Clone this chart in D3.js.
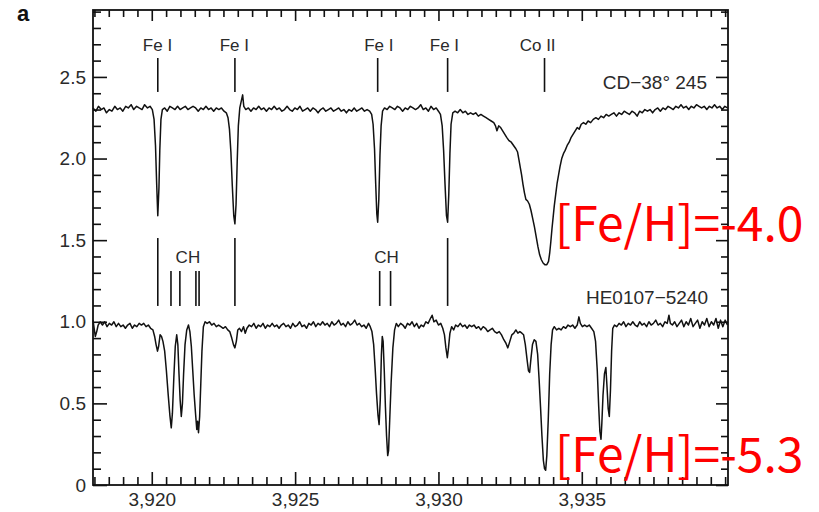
<!DOCTYPE html>
<html><head><meta charset="utf-8">
<script src="https://cdn.jsdelivr.net/npm/d3@7"></script>
<style>body{margin:0;background:#fff}svg{display:block}</style>
</head><body>
<svg id="chart" width="819" height="512"></svg>
<script>
// ---- data ----
const topSpectrum = [[3917.95,2.31],[3918.05,2.29],[3918.14,2.32],[3918.24,2.30],[3918.33,2.31],[3918.42,2.28],[3918.52,2.30],[3918.61,2.29],[3918.71,2.32],[3918.80,2.30],[3918.90,2.31],[3918.99,2.29],[3919.09,2.32],[3919.18,2.31],[3919.28,2.33],[3919.37,2.30],[3919.47,2.32],[3919.56,2.31],[3919.66,2.30],[3919.75,2.33],[3919.85,2.31],[3919.94,2.32],[3920.02,2.30],[3920.08,2.24],[3920.13,2.08],[3920.17,1.85],[3920.21,1.65],[3920.25,1.82],[3920.28,2.05],[3920.32,2.24],[3920.37,2.30],[3920.45,2.31],[3920.54,2.29],[3920.63,2.32],[3920.72,2.31],[3920.81,2.30],[3920.90,2.32],[3920.99,2.30],[3921.08,2.31],[3921.17,2.32],[3921.26,2.30],[3921.35,2.31],[3921.44,2.32],[3921.53,2.31],[3921.62,2.29],[3921.71,2.31],[3921.80,2.30],[3921.89,2.32],[3921.98,2.30],[3922.07,2.31],[3922.16,2.29],[3922.25,2.31],[3922.34,2.30],[3922.43,2.31],[3922.52,2.29],[3922.60,2.28],[3922.66,2.25],[3922.71,2.18],[3922.76,2.04],[3922.81,1.83],[3922.86,1.65],[3922.90,1.60],[3922.94,1.72],[3922.98,1.98],[3923.02,2.20],[3923.07,2.31],[3923.12,2.35],[3923.17,2.39],[3923.21,2.32],[3923.28,2.30],[3923.37,2.31],[3923.46,2.29],[3923.55,2.31],[3923.64,2.30],[3923.73,2.32],[3923.82,2.30],[3923.91,2.31],[3924.00,2.29],[3924.09,2.31],[3924.18,2.30],[3924.27,2.32],[3924.36,2.30],[3924.45,2.31],[3924.54,2.29],[3924.63,2.30],[3924.72,2.32],[3924.81,2.30],[3924.90,2.29],[3924.99,2.31],[3925.08,2.30],[3925.17,2.32],[3925.26,2.29],[3925.35,2.30],[3925.44,2.31],[3925.53,2.29],[3925.62,2.31],[3925.71,2.30],[3925.80,2.28],[3925.89,2.30],[3925.98,2.31],[3926.07,2.29],[3926.16,2.30],[3926.25,2.31],[3926.34,2.29],[3926.43,2.30],[3926.52,2.31],[3926.61,2.29],[3926.70,2.30],[3926.79,2.28],[3926.88,2.30],[3926.97,2.29],[3927.06,2.31],[3927.15,2.29],[3927.24,2.30],[3927.33,2.31],[3927.42,2.29],[3927.51,2.30],[3927.60,2.29],[3927.67,2.27],[3927.72,2.21],[3927.77,2.06],[3927.81,1.85],[3927.85,1.66],[3927.88,1.61],[3927.92,1.75],[3927.96,2.02],[3928.00,2.20],[3928.05,2.29],[3928.12,2.31],[3928.21,2.30],[3928.30,2.32],[3928.39,2.31],[3928.48,2.30],[3928.57,2.32],[3928.66,2.31],[3928.75,2.29],[3928.84,2.31],[3928.93,2.30],[3929.02,2.32],[3929.11,2.31],[3929.20,2.30],[3929.29,2.31],[3929.38,2.33],[3929.47,2.30],[3929.56,2.31],[3929.65,2.29],[3929.74,2.32],[3929.83,2.30],[3929.92,2.31],[3930.00,2.29],[3930.07,2.27],[3930.13,2.20],[3930.18,2.05],[3930.23,1.84],[3930.28,1.65],[3930.32,1.61],[3930.36,1.78],[3930.40,2.03],[3930.44,2.21],[3930.50,2.28],[3930.58,2.29],[3930.67,2.28],[3930.76,2.30],[3930.85,2.28],[3930.94,2.29],[3931.03,2.27],[3931.12,2.28],[3931.21,2.27],[3931.30,2.28],[3931.39,2.26],[3931.48,2.27],[3931.57,2.26],[3931.66,2.25],[3931.75,2.24],[3931.84,2.23],[3931.93,2.22],[3931.99,2.20],[3932.04,2.17],[3932.10,2.20],[3932.17,2.19],[3932.24,2.17],[3932.31,2.15],[3932.38,2.13],[3932.46,2.11],[3932.54,2.10],[3932.62,2.08],[3932.70,2.06],[3932.76,2.04],[3932.81,1.99],[3932.86,1.94],[3932.90,1.90],[3932.95,1.84],[3933.00,1.79],[3933.05,1.75],[3933.11,1.74],[3933.17,1.72],[3933.23,1.68],[3933.29,1.63],[3933.35,1.58],[3933.41,1.52],[3933.47,1.46],[3933.53,1.41],[3933.59,1.38],[3933.65,1.36],[3933.71,1.35],[3933.78,1.35],[3933.84,1.37],[3933.88,1.42],[3933.92,1.49],[3933.96,1.57],[3934.00,1.64],[3934.04,1.71],[3934.09,1.78],[3934.14,1.85],[3934.19,1.90],[3934.24,1.95],[3934.30,2.00],[3934.36,2.03],[3934.42,2.05],[3934.49,2.08],[3934.56,2.10],[3934.63,2.13],[3934.70,2.15],[3934.77,2.17],[3934.84,2.19],[3934.91,2.18],[3934.98,2.21],[3935.06,2.22],[3935.14,2.21],[3935.22,2.23],[3935.31,2.22],[3935.40,2.24],[3935.49,2.25],[3935.58,2.24],[3935.67,2.26],[3935.76,2.25],[3935.85,2.27],[3935.94,2.26],[3936.03,2.27],[3936.12,2.28],[3936.21,2.26],[3936.30,2.28],[3936.39,2.27],[3936.48,2.29],[3936.57,2.28],[3936.66,2.27],[3936.75,2.29],[3936.84,2.28],[3936.93,2.26],[3937.02,2.29],[3937.11,2.28],[3937.20,2.30],[3937.29,2.29],[3937.38,2.30],[3937.47,2.28],[3937.56,2.30],[3937.65,2.31],[3937.74,2.29],[3937.83,2.31],[3937.92,2.30],[3938.01,2.32],[3938.10,2.31],[3938.19,2.30],[3938.28,2.32],[3938.37,2.31],[3938.46,2.33],[3938.55,2.31],[3938.64,2.32],[3938.73,2.30],[3938.82,2.32],[3938.91,2.31],[3939.00,2.33],[3939.09,2.32],[3939.18,2.31],[3939.27,2.32],[3939.36,2.30],[3939.45,2.32],[3939.54,2.31],[3939.63,2.33],[3939.72,2.31],[3939.81,2.32],[3939.90,2.30],[3939.99,2.32],[3940.08,2.31]];

const bottomSpectrum = [[3917.95,1.01],[3917.99,0.96],[3918.03,0.91],[3918.08,0.94],[3918.13,0.98],[3918.20,1.00],[3918.28,0.98],[3918.36,1.00],[3918.44,0.97],[3918.52,0.99],[3918.60,0.98],[3918.68,1.00],[3918.76,0.97],[3918.84,0.99],[3918.92,0.97],[3919.00,0.98],[3919.08,0.96],[3919.16,0.98],[3919.24,0.99],[3919.32,0.96],[3919.40,0.98],[3919.48,0.97],[3919.56,0.99],[3919.64,0.98],[3919.72,0.99],[3919.80,0.97],[3919.88,0.98],[3919.96,0.96],[3920.04,0.95],[3920.10,0.91],[3920.15,0.86],[3920.20,0.82],[3920.24,0.85],[3920.29,0.92],[3920.34,0.91],[3920.39,0.88],[3920.45,0.82],[3920.51,0.70],[3920.57,0.56],[3920.63,0.43],[3920.68,0.35],[3920.72,0.44],[3920.77,0.66],[3920.82,0.85],[3920.87,0.92],[3920.91,0.86],[3920.95,0.68],[3920.99,0.52],[3921.03,0.42],[3921.07,0.50],[3921.11,0.68],[3921.16,0.86],[3921.22,0.95],[3921.28,0.98],[3921.33,0.94],[3921.38,0.85],[3921.43,0.70],[3921.48,0.55],[3921.53,0.43],[3921.57,0.34],[3921.60,0.39],[3921.63,0.32],[3921.67,0.42],[3921.71,0.62],[3921.75,0.82],[3921.80,0.97],[3921.86,1.00],[3921.93,0.99],[3922.01,1.00],[3922.09,0.98],[3922.17,0.99],[3922.25,0.97],[3922.33,0.98],[3922.41,0.97],[3922.49,0.96],[3922.57,0.97],[3922.65,0.95],[3922.72,0.94],[3922.79,0.90],[3922.85,0.86],[3922.90,0.84],[3922.95,0.88],[3923.00,0.95],[3923.06,0.96],[3923.13,0.94],[3923.20,0.97],[3923.26,0.93],[3923.32,0.96],[3923.40,0.98],[3923.48,0.97],[3923.56,0.99],[3923.64,0.96],[3923.72,0.98],[3923.80,0.97],[3923.88,0.99],[3923.96,0.96],[3924.04,0.98],[3924.12,0.97],[3924.20,0.99],[3924.28,0.97],[3924.36,0.98],[3924.44,0.96],[3924.52,0.98],[3924.60,0.99],[3924.68,0.97],[3924.76,0.98],[3924.84,0.96],[3924.92,0.99],[3925.00,0.97],[3925.08,0.98],[3925.16,1.00],[3925.24,0.97],[3925.32,0.98],[3925.40,0.96],[3925.48,0.99],[3925.56,0.98],[3925.64,1.00],[3925.72,0.97],[3925.80,0.99],[3925.88,0.98],[3925.96,1.00],[3926.04,0.98],[3926.12,0.99],[3926.20,0.97],[3926.28,1.00],[3926.36,0.98],[3926.44,0.99],[3926.52,1.01],[3926.60,0.98],[3926.68,0.99],[3926.76,0.97],[3926.84,1.00],[3926.92,0.98],[3927.00,0.99],[3927.08,1.01],[3927.16,0.98],[3927.24,0.99],[3927.32,0.97],[3927.40,0.98],[3927.48,0.96],[3927.56,0.99],[3927.62,0.97],[3927.68,0.94],[3927.74,0.86],[3927.79,0.72],[3927.84,0.56],[3927.89,0.43],[3927.93,0.37],[3927.97,0.52],[3928.01,0.80],[3928.04,0.91],[3928.07,0.88],[3928.11,0.70],[3928.15,0.48],[3928.19,0.30],[3928.23,0.18],[3928.26,0.21],[3928.30,0.40],[3928.35,0.63],[3928.41,0.84],[3928.47,0.95],[3928.53,0.99],[3928.60,0.97],[3928.68,0.99],[3928.76,0.98],[3928.84,0.96],[3928.92,0.99],[3929.00,0.98],[3929.08,1.00],[3929.16,0.97],[3929.24,0.99],[3929.32,0.96],[3929.40,0.98],[3929.48,0.97],[3929.56,1.00],[3929.64,0.99],[3929.72,1.02],[3929.78,1.04],[3929.84,1.00],[3929.92,1.01],[3930.00,0.98],[3930.08,0.99],[3930.15,0.96],[3930.21,0.92],[3930.26,0.84],[3930.31,0.78],[3930.35,0.84],[3930.40,0.93],[3930.46,0.97],[3930.53,0.95],[3930.60,0.98],[3930.68,0.97],[3930.76,0.99],[3930.84,0.97],[3930.92,0.98],[3931.00,0.96],[3931.08,0.98],[3931.16,0.97],[3931.24,0.98],[3931.32,0.96],[3931.40,0.97],[3931.48,0.95],[3931.56,0.97],[3931.64,0.96],[3931.72,0.94],[3931.80,0.95],[3931.88,0.96],[3931.96,0.94],[3932.04,0.93],[3932.12,0.94],[3932.20,0.92],[3932.28,0.89],[3932.35,0.87],[3932.42,0.84],[3932.49,0.88],[3932.56,0.92],[3932.63,0.93],[3932.70,0.95],[3932.77,0.93],[3932.84,0.94],[3932.91,0.93],[3932.97,0.92],[3933.03,0.86],[3933.09,0.77],[3933.14,0.70],[3933.18,0.69],[3933.23,0.78],[3933.28,0.86],[3933.34,0.89],[3933.40,0.88],[3933.46,0.80],[3933.51,0.65],[3933.56,0.48],[3933.61,0.30],[3933.66,0.15],[3933.70,0.10],[3933.74,0.09],[3933.78,0.18],[3933.83,0.40],[3933.88,0.68],[3933.93,0.86],[3933.98,0.95],[3934.04,0.97],[3934.12,0.95],[3934.20,0.96],[3934.28,0.95],[3934.36,0.97],[3934.44,0.96],[3934.52,0.98],[3934.60,0.97],[3934.68,0.98],[3934.76,0.96],[3934.84,0.98],[3934.90,1.03],[3934.95,0.99],[3935.02,0.97],[3935.10,0.98],[3935.18,0.97],[3935.26,0.98],[3935.34,0.96],[3935.42,0.94],[3935.48,0.88],[3935.54,0.70],[3935.59,0.48],[3935.63,0.33],[3935.67,0.28],[3935.70,0.38],[3935.74,0.55],[3935.79,0.68],[3935.84,0.72],[3935.88,0.60],[3935.92,0.47],[3935.96,0.42],[3936.00,0.58],[3936.04,0.82],[3936.08,0.96],[3936.14,0.98],[3936.22,0.97],[3936.30,0.99],[3936.38,0.98],[3936.46,1.00],[3936.54,0.97],[3936.62,0.99],[3936.70,0.98],[3936.78,1.00],[3936.86,0.98],[3936.94,0.97],[3937.02,1.00],[3937.10,0.98],[3937.18,0.99],[3937.26,0.97],[3937.34,1.00],[3937.42,0.98],[3937.50,0.99],[3937.58,1.01],[3937.66,0.98],[3937.74,0.99],[3937.82,0.97],[3937.90,1.00],[3937.98,0.99],[3938.04,1.04],[3938.09,0.99],[3938.16,0.98],[3938.24,1.00],[3938.32,0.97],[3938.40,0.99],[3938.48,1.01],[3938.56,0.97],[3938.64,1.00],[3938.72,0.98],[3938.80,1.02],[3938.88,0.97],[3938.96,0.99],[3939.04,1.01],[3939.12,0.96],[3939.20,1.00],[3939.28,0.98],[3939.36,1.02],[3939.44,0.97],[3939.52,1.00],[3939.60,0.98],[3939.68,1.02],[3939.76,0.96],[3939.84,1.01],[3939.92,0.97],[3940.00,1.01],[3940.08,0.98]];

const topLineWl     = [3920.21, 3922.90, 3927.88, 3930.32, 3933.70];
const topLineLabels = ["Fe I", "Fe I", "Fe I", "Fe I", "Co II"];
const topLabelWl    = [3920.20, 3922.88, 3927.92, 3930.21, 3933.46];
const bottomFeWl    = [3920.21, 3922.90, 3930.32];
const chLineWl      = [3920.67, 3920.98, 3921.54, 3921.65, 3927.95, 3928.33];
const chLabelWl     = [3921.26, 3928.19];
const starNames     = ["CD\u221238\u00b0 245", "HE0107\u22125240"];
const metallicity   = ["[Fe/H]=-4.0", "[Fe/H]=-5.3"];
const xMajorTicks   = [3920, 3925, 3930, 3935];
const yMajorTicks   = [0, 0.5, 1.0, 1.5, 2.0, 2.5];

// ---- layout ----
const m = {left: 93, right: 728, top: 10, bottom: 485};
const svg = d3.select("#chart");
const x = d3.scaleLinear().domain([3917.95, 3940.1]).range([m.left, m.right]);
const y = d3.scaleLinear().domain([0, 2.91]).range([m.bottom, m.top]);

const ink = "#111";
const txt = "#2a2a2a";
const font = "'Liberation Sans', Arial, sans-serif";

const xMinor = d3.range(3918, 3940.01, 0.5).filter(v => !xMajorTicks.includes(v));
const yMinor = d3.range(0.1, 2.91, 0.1).map(v => +v.toFixed(1)).filter(v => !yMajorTicks.includes(v));

function styleAxis(g) {
  g.select(".domain").remove();
  g.selectAll(".tick line").attr("stroke", ink).attr("stroke-width", 1.6);
  g.selectAll(".tick text").attr("fill", txt).style("font-family", font).style("font-size", "19px");
}

// bottom axis
svg.append("g").attr("transform", `translate(0,${m.bottom})`)
  .call(d3.axisBottom(x).tickValues(xMinor).tickSize(-8).tickFormat(""))
  .call(styleAxis);
svg.append("g").attr("transform", `translate(0,${m.bottom})`)
  .call(d3.axisBottom(x).tickValues(xMajorTicks).tickSize(-13).tickPadding(8).tickFormat(d3.format(",")))
  .call(styleAxis);
// top axis (ticks only)
svg.append("g").attr("transform", `translate(0,${m.top})`)
  .call(d3.axisTop(x).tickValues(xMinor).tickSize(-7).tickFormat(""))
  .call(styleAxis);
svg.append("g").attr("transform", `translate(0,${m.top})`)
  .call(d3.axisTop(x).tickValues(xMajorTicks).tickSize(-11).tickFormat(""))
  .call(styleAxis);
// left axis
svg.append("g").attr("transform", `translate(${m.left},0)`)
  .call(d3.axisLeft(y).tickValues(yMinor).tickSize(-8).tickFormat(""))
  .call(styleAxis);
svg.append("g").attr("transform", `translate(${m.left},0)`)
  .call(d3.axisLeft(y).tickValues(yMajorTicks).tickSize(-14).tickPadding(7)
        .tickFormat(d => d === 0 ? "0" : d3.format(".1f")(d)))
  .call(styleAxis);
// right axis
svg.append("g").attr("transform", `translate(${m.right},0)`)
  .call(d3.axisRight(y).tickValues(yMinor).tickSize(-7).tickFormat(""))
  .call(styleAxis);
svg.append("g").attr("transform", `translate(${m.right},0)`)
  .call(d3.axisRight(y).tickValues(yMajorTicks).tickSize(-12).tickFormat(""))
  .call(styleAxis);

// frame
svg.append("rect").attr("x", m.left).attr("y", m.top)
  .attr("width", m.right - m.left).attr("height", m.bottom - m.top)
  .attr("fill", "none").attr("stroke", ink).attr("stroke-width", 1.8);

// spectra
const line = d3.line().x(d => x(d[0])).y(d => y(d[1]));
[topSpectrum, bottomSpectrum].forEach(s => {
  svg.append("path").datum(s).attr("d", line)
    .attr("fill", "none").attr("stroke", ink).attr("stroke-width", 1.5)
    .attr("stroke-linejoin", "round");
});

// line markers (top)
svg.append("g").selectAll("line").data(topLineWl).join("line")
  .attr("x1", d => x(d)).attr("x2", d => x(d))
  .attr("y1", y(2.616)).attr("y2", y(2.408))
  .attr("stroke", ink).attr("stroke-width", 1.6);
svg.append("g").selectAll("text").data(topLineLabels).join("text")
  .attr("x", (d, i) => x(topLabelWl[i])).attr("y", 51)
  .attr("text-anchor", "middle").attr("fill", txt)
  .style("font-family", font).style("font-size", "17px").text(d => d);

// line markers (bottom)
svg.append("g").selectAll("line").data(bottomFeWl).join("line")
  .attr("x1", d => x(d)).attr("x2", d => x(d))
  .attr("y1", y(1.513)).attr("y2", y(1.097))
  .attr("stroke", ink).attr("stroke-width", 1.6);
svg.append("g").selectAll("line").data(chLineWl).join("line")
  .attr("x1", d => x(d)).attr("x2", d => x(d))
  .attr("y1", y(1.311)).attr("y2", y(1.097))
  .attr("stroke", ink).attr("stroke-width", 1.6);
svg.append("g").selectAll("text").data(chLabelWl).join("text")
  .attr("x", d => x(d)).attr("y", 263)
  .attr("text-anchor", "middle").attr("fill", txt)
  .style("font-family", font).style("font-size", "17px").text("CH");

// star names
svg.append("text").attr("x", 707).attr("y", 89).attr("text-anchor", "end")
  .attr("fill", txt).style("font-family", font).style("font-size", "19px").text(starNames[0]);
svg.append("text").attr("x", 708).attr("y", 304).attr("text-anchor", "end")
  .attr("fill", txt).style("font-family", font).style("font-size", "19px").text(starNames[1]);

// panel letter
svg.append("text").attr("x", 17).attr("y", 21).attr("fill", "#111")
  .style("font-family", font).style("font-size", "22px").style("font-weight", "bold").text("a");

// metallicity labels
[241, 472].forEach((by, i) => {
  svg.append("text").attr("x", 555).attr("y", by).attr("fill", "#ff0000")
    .style("font-family", "'Noto Sans CJK SC', 'Noto Sans', sans-serif")
    .style("font-size", "48px").text(metallicity[i]);
});
</script>
</body></html>
